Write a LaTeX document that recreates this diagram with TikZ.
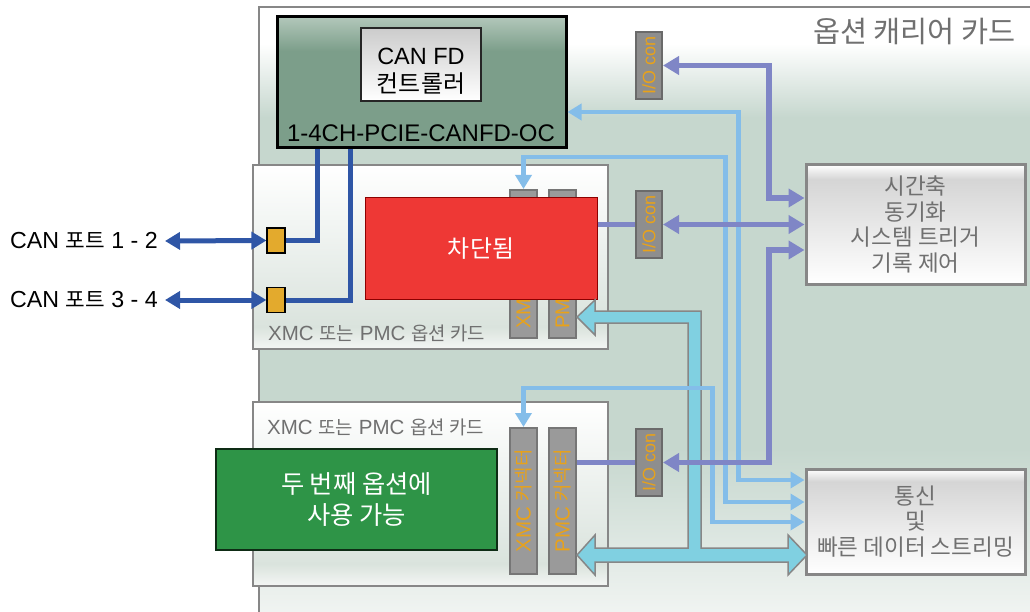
\documentclass[tikz,border=0pt]{standalone}
\usepackage{graphicx}
\usepackage{fontspec}
\setmainfont{Liberation Sans}
\newfontfamily\kr[Scale=0.92]{Noto Sans CJK KR}
\newcommand{\kor}[1]{{\kr #1}}
\usetikzlibrary{arrows.meta}
\definecolor{carmid}{HTML}{C6D7CE}
\definecolor{carbot}{HTML}{F2F5F3}
\definecolor{cardmid}{HTML}{DAE3DD}
\definecolor{cardbot}{HTML}{F4F6F4}
\definecolor{panelmid}{HTML}{7C9E8A}
\definecolor{paneltop}{HTML}{B2C7BA}
\definecolor{infomid}{HTML}{D5D5D5}
\definecolor{edgegray}{HTML}{878787}
\definecolor{labelgray}{HTML}{707070}
\definecolor{blockred}{HTML}{EE3835}
\definecolor{freegreen}{HTML}{2E9447}
\definecolor{slotgray}{HTML}{9A9A9A}
\definecolor{slotedge}{HTML}{767676}
\definecolor{iogray}{HTML}{8E8E8E}
\definecolor{pinorange}{HTML}{E8A21A}
\definecolor{portorange}{HTML}{E3AA2D}
\definecolor{busblue}{HTML}{2F56A6}
\definecolor{syncpurple}{HTML}{7F86C6}
\definecolor{datablue}{HTML}{84BDE9}
\definecolor{pipecyan}{HTML}{80D0E1}
\pgfdeclareverticalshading{carriershade}{100bp}{color(0bp)=(carbot); color(25bp)=(carbot); color(39bp)=(carmid); color(66bp)=(carmid); color(72bp)=(white); color(100bp)=(white)}
\pgfdeclareverticalshading{cardshade}{100bp}{color(0bp)=(cardbot); color(25bp)=(cardbot); color(31bp)=(cardmid); color(75bp)=(white); color(100bp)=(white)}
\pgfdeclareverticalshading{panelshade}{100bp}{color(0bp)=(panelmid); color(62bp)=(panelmid); color(75bp)=(paneltop); color(100bp)=(paneltop)}
\pgfdeclareverticalshading{infoshade}{100bp}{color(0bp)=(white); color(25bp)=(white); color(69bp)=(infomid); color(75bp)=(white); color(100bp)=(white)}
\tikzset{
    carrier/.style={draw=edgegray,line width=2.5pt,shading=carriershade,inner sep=0pt},
    carriertext/.style={text=labelgray,inner sep=0pt,font=\kr\fontsize{32}{36}\selectfont},
    panel/.style={draw=black,line width=3pt,shading=panelshade,inner sep=0pt},
    ctrlbox/.style={draw=black!85,line width=2pt,top color=gray!40,bottom color=white,inner sep=0pt},
    ctrltext/.style={align=center,inner sep=0pt,font=\fontsize{23.5}{28}\selectfont},
    modeltext/.style={inner sep=0pt,font=\fontsize{24}{28}\selectfont},
    optcard/.style={draw=edgegray,line width=2.5pt,shading=cardshade,inner sep=0pt,
        minimum width=355pt,minimum height=184pt},
    cardtext/.style={text=labelgray,inner sep=0pt,font=\fontsize{20.5}{22}\selectfont},
    slot/.style={draw=slotedge,line width=2pt,fill=slotgray,inner sep=0pt,minimum width=27pt,
        text=pinorange,font=\fontsize{20.5}{22}\selectfont},
    pintext/.style={text=pinorange,inner sep=0pt,font=\fontsize{20}{22}\selectfont},
    iocon/.style={draw=slotedge!90!black,line width=2pt,fill=iogray,inner sep=0pt,
        minimum width=26pt,minimum height=67pt,text=pinorange,font=\fontsize{18}{20}\selectfont},
    blockbox/.style={draw=red!55!black,line width=1pt,fill=blockred,text=white,inner sep=0pt,
        font=\kr\fontsize{26}{30}\selectfont},
    freebox/.style={draw=black!70!freegreen,line width=1.2pt,fill=freegreen,text=white,inner sep=0pt,
        align=center,font=\kr\fontsize{27.5}{31}\selectfont},
    infobox/.style={draw=edgegray,line width=3pt,shading=infoshade,text=labelgray,align=center,
        inner sep=0pt,minimum width=219pt,font=\kr\fontsize{24.5}{25.7}\selectfont},
    portbox/.style={draw=black,line width=1.2pt,fill=portorange,minimum width=18pt,minimum height=25pt,inner sep=0pt},
    porttext/.style={inner sep=0pt,font=\fontsize{23.2}{26}\selectfont},
    bus/.style={draw=busblue,line width=5pt,>={Triangle[length=15pt,width=17pt]}},
    sync/.style={draw=syncpurple,line width=5.5pt,>={Triangle[length=16pt,width=18pt]}},
    data/.style={draw=datablue,line width=4.5pt,>={Triangle[length=14pt,width=16pt]}},
    pipe/.style={fill=pipecyan,draw=edgegray,line width=1.5pt,line join=miter},
}

\begin{document}
\begin{tikzpicture}[x=1pt,y=-1pt]
    \useasboundingbox (0,0) rectangle (1030,612);
    % carrier card
    \node[carrier,minimum width=781pt,minimum height=613pt] (carrier) at (649.5,313.5) {};
    \node[carriertext,anchor=east] (carriername) at (1016,31) {옵션 캐리어 카드};

    % CAN FD card
    \node[panel,minimum width=289pt,minimum height=131pt] (main) at (421.5,82.5) {};
    \node[ctrlbox,minimum width=120pt,minimum height=73pt] (ctrl) at (421,64.5) {};
    \node[ctrltext] (ctrlname) at (421,71) {CAN FD\\\kor{\fontsize{26}{28}\selectfont 컨트롤러}};
    \node[modeltext] (model) at (421,133) {1-4CH-PCIE-CANFD-OC};

    % option cards
    \node[optcard] (card1) at (430.5,257) {};
    \node[cardtext,anchor=west] (card1name) at (268,333) {XMC \kor{또는} PMC \kor{옵션 카드}};
    \node[optcard] (card2) at (430.5,494) {};
    \node[cardtext,anchor=west] (card2name) at (267,427) {XMC \kor{또는} PMC \kor{옵션 카드}};

    \node[slot,minimum height=148pt] (xm1) at (523.5,264) {};
    \node[slot,minimum height=148pt] (pm1) at (562.5,264) {};
    \node[blockbox,minimum width=232pt,minimum height=101pt] (blocked) at (481,248.5) {차단됨};
    \node[pintext,anchor=south] (xm1name) at ([yshift=10pt]xm1.south) {\rotatebox{90}{XM}};
    \node[pintext,anchor=south] (pm1name) at ([yshift=10pt]pm1.south) {\rotatebox{90}{PM}};

    \node[slot,minimum height=146pt] (xmc2) at (523.5,501) {\rotatebox{90}{XMC \kor{커넥터}}};
    \node[slot,minimum height=146pt] (pmc2) at (562.5,501) {\rotatebox{90}{PMC \kor{커넥터}}};
    \node[freebox,minimum width=281pt,minimum height=101pt] (spare) at (356.5,499.5) {두 번째 옵션에\\사용 가능};

    % I/O connectors and target blocks
    \node[iocon] (io1) at (649,65.5) {\rotatebox{90}{I/O con}};
    \node[iocon] (io2) at (649,224.5) {\rotatebox{90}{I/O con}};
    \node[iocon] (io3) at (649,462.5) {\rotatebox{90}{I/O con}};
    \node[infobox,minimum height=119pt] (timebox) at (915.5,224.5) {시간축\\동기화\\시스템 트리거\\기록 제어};
    \node[infobox,minimum height=105pt] (commbox) at (915.5,521.5) {통신\\및\\빠른 데이터 스트리밍};

    % PMC data pipe
    \filldraw[pipe] (577,317) -- (595,300) -- (595,311) -- (701,311) -- (701,548) -- (788,548)
        -- (788,535) -- (807,555) -- (788,575) -- (788,562) -- (595,562) -- (595,575) -- (577,555)
        -- (595,535) -- (595,548) -- (688,548) -- (688,323) -- (595,323) -- (595,335) -- cycle;

    % data links
    \draw[data,<->] ([yshift=41.5pt]commbox.west) -- ++(-66,0) |- ([yshift=-29.5pt]main.east);
    \draw[data,<->] ([yshift=19.5pt]commbox.west) -- ++(-79,0) -- ++(0,-345) -| (xm1.north);
    \draw[data,<->] ([yshift=-0.5pt]commbox.west) -- ++(-92,0) -- ++(0,-134) -| (xmc2.north);

    % sync links
    \draw[sync,<->] (io1.east) -- ++(106,0) |- ([yshift=26.5pt]timebox.west);
    \draw[sync] (io2.west -| blocked.east) -- (io2.west);
    \draw[sync,<->] (io2.east) -- (io2.east -| timebox.west);
    \draw[sync,<->] (io3.east) -- ++(106,0) |- ([yshift=-25.5pt]timebox.west);
    \draw[sync] (io3.west -| pmc2.east) -- (io3.west);

    % CAN ports
    \node[portbox] (port1) at (276,240.5) {};
    \node[portbox] (port2) at (276,300) {};
    \draw[bus] (port1.east) -| ([xshift=-104.5pt]main.south);
    \draw[bus] (port2.east) -| ([xshift=-71.5pt]main.south);
    \node[porttext,anchor=east] (port1name) at (158,241) {CAN \kor{포트} 1 - 2};
    \node[porttext,anchor=east] (port2name) at (158,300) {CAN \kor{포트} 3 - 4};
    \draw[bus,<->] ([xshift=7pt]port1name.east) -- (port1.west);
    \draw[bus,<->] ([xshift=7pt]port2name.east) -- (port2.west);
\end{tikzpicture}
\end{document}
